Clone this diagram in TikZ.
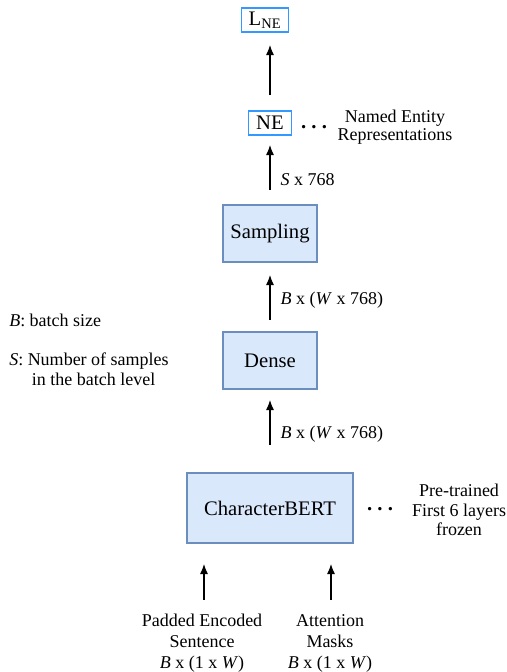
\documentclass[tikz,border=0pt]{standalone}
\usepackage{fontspec}
\setmainfont{Liberation Serif}
\usetikzlibrary{arrows.meta}
\definecolor{boxfill}{HTML}{DAE8FC}
\definecolor{boxline}{HTML}{6C8EBF}
\definecolor{outline}{HTML}{3399FF}
\tikzset{
  layer/.style={draw=boxline, fill=boxfill, line width=0.8pt, minimum width=#1, minimum height=57*0.75pt, inner sep=0pt, font=\fontsize{15.5}{17}\selectfont},
  layer/.default={94*0.75pt},
  tag/.style={draw=outline, fill=white, line width=0.8pt, inner xsep=5.5pt, inner ysep=1pt, minimum height=24*0.75pt, font=\fontsize{15.5}{17}\selectfont},
  note/.style={align=center, font=\fontsize{13.5}{14.6}\selectfont},
  lbl/.style={anchor=west, font=\fontsize{13.5}{15}\selectfont},
  flow/.style={-{Latex[length=7.5pt,width=6pt]}, line width=0.9pt},
  dots/.style={font=\fontsize{15.5}{17}\bfseries\selectfont, inner sep=0pt}
}
\begin{document}
\begin{tikzpicture}[x=0.75pt, y=-0.75pt]
\useasboundingbox (0,0) rectangle (507,672);
% top tags
\node[tag] (lne) at (265,20) {L\textsubscript{NE}};
\node[tag] (ne) at (270,123) {NE};
\node[dots, anchor=base] (dne) at (314,128) {.\ .\ .};
\node[note, font=\fontsize{13.5}{13.3}\selectfont] (ner) at (395,127) {Named Entity\\Representations};
% layers
\node[layer] (samp) at (270,233.5) {Sampling};
\node[layer] (dense) at (270,360.5) {Dense};
\node[layer={166*0.75pt}, minimum height=70*0.75pt] (cb) at (270,508) {CharacterBERT};
\node[dots, anchor=base] (dcb) at (380,510) {.\ .\ .};
\node[note] (pre) at (459,510) {Pre-trained\\First 6 layers\\frozen};
% arrow end points
\coordinate (a1s) at (270,95);  \coordinate (a1e) at (270,45);
\coordinate (a2s) at (270,190); \coordinate (a2e) at (270,145);
\coordinate (a3s) at (270,320); \coordinate (a3e) at (270,275);
\coordinate (a4s) at (270,445); \coordinate (a4e) at (270,400);
\coordinate (a5s) at (204,600); \coordinate (a5e) at (204,564);
\coordinate (a6s) at (331,600); \coordinate (a6e) at (331,564);
\draw[flow] (a1s) -- (a1e);
\draw[flow] (a2s) -- (a2e);
\draw[flow] (a3s) -- (a3e);
\draw[flow] (a4s) -- (a4e);
\draw[flow] (a5s) -- (a5e);
\draw[flow] (a6s) -- (a6e);
% arrow labels
\node[lbl] (l2) at (276,180) {\textit{S} x 768};
\node[lbl] (l3) at (276,300) {\textit{B} x (\textit{W} x 768)};
\node[lbl] (l4) at (276,434) {\textit{B} x (\textit{W} x 768)};
% legend
\node[lbl, anchor=base west, inner sep=0pt] (lb) at (9,326) {\textit{B}: batch size};
\node[note, anchor=base west, align=left, inner sep=0pt, font=\fontsize{13.5}{14.5}\selectfont] (ls) at (9,385) {\textit{S}: Number of samples\\\hspace{17pt}in the batch level};
% inputs
\node[note, font=\fontsize{13.5}{15.75}\selectfont] (in1) at (202,643) {Padded Encoded\\Sentence\\\textit{B} x (1 x \textit{W})};
\node[note, font=\fontsize{13.5}{15.75}\selectfont] (in2) at (330,643) {Attention\\Masks\\\textit{B} x (1 x \textit{W})};
\end{tikzpicture}
\end{document}
